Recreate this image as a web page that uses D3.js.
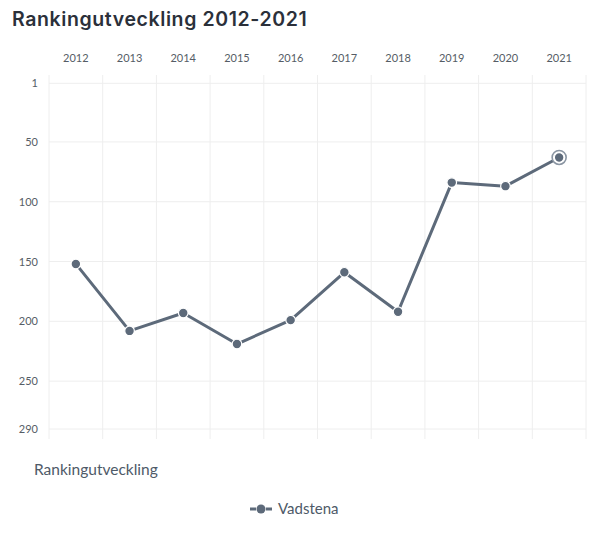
<!DOCTYPE html>
<html>
<head>
<meta charset="utf-8">
<script src="https://cdn.jsdelivr.net/npm/d3@7/dist/d3.min.js"></script>
<style>
  html, body { margin: 0; padding: 0; background: #fff; }
  svg { display: block; }
</style>
</head>
<body>
<svg id="chart" width="602" height="538"></svg>
<script>
const years = ["2012","2013","2014","2015","2016","2017","2018","2019","2020","2021"];
const rankings = [152, 208, 193, 219, 199, 159, 192, 84, 87, 63];
const yTicks = [1, 50, 100, 150, 200, 250, 290];
const seriesName = "Vadstena";
const titleText = "Rankingutveckling 2012-2021";
const subtitleText = "Rankingutveckling";

const svg = d3.select("#chart");
const color = "#5d6a7a";
const textColor = "#555d66";

const x = d3.scaleBand().domain(years).range([49, 586]);
const y = d3.scaleLinear().domain([1, 290]).range([83.3, 429]);
const plotTop = 75, plotBottom = 439;

// Title
svg.append("text")
  .attr("x", 12).attr("y", 26)
  .attr("font-family", "Inter, 'Noto Sans', sans-serif")
  .attr("font-weight", 600)
  .attr("font-size", 19.5)
  .attr("letter-spacing", 0.6)
  .attr("fill", "#2b303a")
  .text(titleText);

// Vertical grid lines (band boundaries)
const bounds = years.map(d => x(d)).concat([x.range()[1]]);
svg.append("g").selectAll("line").data(bounds).join("line")
  .attr("x1", d => d).attr("x2", d => d)
  .attr("y1", plotTop).attr("y2", plotBottom)
  .attr("stroke", "#eeeeee").attr("stroke-width", 1);

// Horizontal grid lines
svg.append("g").selectAll("line").data(yTicks).join("line")
  .attr("x1", x.range()[0]).attr("x2", x.range()[1])
  .attr("y1", d => y(d)).attr("y2", d => y(d))
  .attr("stroke", "#eeeeee").attr("stroke-width", 1);

// Top x axis labels
const xAxis = d3.axisTop(x).tickSize(0).tickPadding(0);
const gx = svg.append("g").attr("transform", "translate(0,62)").call(xAxis);
gx.select(".domain").remove();
gx.selectAll("text")
  .attr("font-family", "Lato, 'Noto Sans', sans-serif")
  .attr("font-size", 11)
  .attr("fill", textColor);

// Left y axis labels
const yAxis = d3.axisLeft(y).tickValues(yTicks).tickSize(0).tickPadding(0).tickFormat(d3.format("d"));
const gy = svg.append("g").attr("transform", "translate(38,0)").call(yAxis);
gy.select(".domain").remove();
gy.selectAll("text")
  .attr("font-family", "Lato, 'Noto Sans', sans-serif")
  .attr("font-size", 11)
  .attr("fill", textColor);

// Line
const data = years.map((yr, i) => ({ year: yr, value: rankings[i] }));
const cx = d => x(d.year) + x.bandwidth() / 2;
const line = d3.line().x(cx).y(d => y(d.value));
svg.append("path")
  .datum(data)
  .attr("d", line)
  .attr("fill", "none")
  .attr("stroke", color)
  .attr("stroke-width", 3)
  .attr("stroke-linejoin", "round");

// Highlight ring on last point
const last = data[data.length - 1];
svg.append("circle")
  .attr("cx", cx(last)).attr("cy", y(last.value))
  .attr("r", 7)
  .attr("fill", "#fff")
  .attr("stroke", "#8a95a2")
  .attr("stroke-width", 1.6);

// Points
svg.append("g").selectAll("circle").data(data).join("circle")
  .attr("cx", cx).attr("cy", d => y(d.value))
  .attr("r", 4.8)
  .attr("fill", color)
  .attr("stroke", "#fff")
  .attr("stroke-width", 1.2);

// Subtitle
svg.append("text")
  .attr("x", 34).attr("y", 475)
  .attr("font-family", "Lato, 'Noto Sans', sans-serif")
  .attr("font-size", 15.5)
  .attr("fill", "#4e5a68")
  .text(subtitleText);

// Legend
const lg = svg.append("g").attr("transform", "translate(250,509)");
lg.append("line").attr("x1", 0).attr("x2", 6).attr("y1", 0).attr("y2", 0)
  .attr("stroke", color).attr("stroke-width", 3);
lg.append("line").attr("x1", 16).attr("x2", 22).attr("y1", 0).attr("y2", 0)
  .attr("stroke", color).attr("stroke-width", 3);
lg.append("circle").attr("cx", 11).attr("cy", 0).attr("r", 4.5).attr("fill", color);
lg.append("text")
  .attr("x", 28).attr("y", 5)
  .attr("font-family", "Lato, 'Noto Sans', sans-serif")
  .attr("font-size", 15)
  .attr("fill", "#4e5a68")
  .text(seriesName);
</script>
</body>
</html>
